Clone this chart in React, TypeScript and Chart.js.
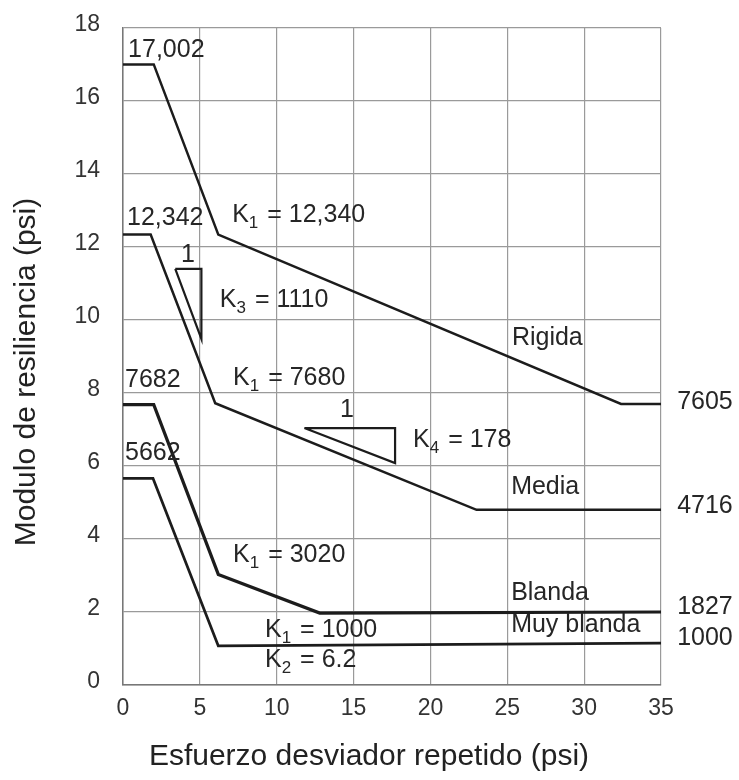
import React, { useEffect, useRef } from "react";
import { Chart, registerables } from "chart.js";

Chart.register(...registerables);

// Esfuerzo desviador (psi) and Modulo de resiliencia (x1000 psi)
const rigidaX = [0, 2, 6.2, 32.4, 35];
const rigidaY = [17.002, 17.002, 12.34, 7.7, 7.7];
const mediaX = [0, 1.8, 6.0, 23.0, 35];
const mediaY = [12.342, 12.342, 7.72, 4.8, 4.8];
const blandaX = [0, 2.0, 6.2, 12.8, 35];
const blandaY = [7.682, 7.682, 3.03, 1.97, 2.0];
const muyBlandaX = [0, 1.95, 6.2, 35];
const muyBlandaY = [5.662, 5.662, 1.07, 1.15];

// slope triangles
const k3TriX = [3.4, 5.1, 5.1, 3.4];
const k3TriY = [11.4, 11.4, 9.48, 11.4];
const k4TriX = [11.8, 17.7, 17.7, 11.8];
const k4TriY = [7.04, 7.04, 6.08, 7.04];

const xTickMin = 0;
const xTickMax = 35;
const xTickStep = 5;
const yTickMin = 0;
const yTickMax = 18;
const yTickStep = 2;

const xTitle = "Esfuerzo desviador repetido (psi)";
const yTitle = "Modulo de resiliencia (psi)";

// Text labels: "_" marks the next character as subscript
const labelTexts = [
  "17,002", "K_1 = 12,340", "12,342", "1", "K_3 = 1110", "Rigida",
  "7682", "K_1 = 7680", "1", "K_4 = 178", "5662", "Media",
  "K_1 = 3020", "Blanda", "Muy blanda", "K_1 = 1000", "K_2 = 6.2",
  "7605", "4716", "1827", "1000",
];
const labelX = [
  0.33, 7.1, 0.26, 4.23, 6.3, 25.3,
  0.13, 7.16, 14.57, 18.87, 0.13, 25.25,
  7.16, 25.25, 25.25, 9.24, 9.24,
  36.05, 36.05, 36.05, 36.05,
];
const labelY = [
  17.4, 12.88, 12.8, 11.78, 10.55, 9.5,
  8.36, 8.41, 7.53, 6.71, 6.36, 5.42,
  3.56, 2.52, 1.64, 1.5, 0.68,
  7.75, 4.9, 2.14, 1.29,
];
const labelCentered = [
  false, false, false, true, false, false,
  false, false, true, false, false, false,
  false, false, false, false, false,
  false, false, false, false,
];

const FONT = '"Liberation Sans", Arial, Helvetica, sans-serif';
const INK = "#1c1c1c";

const pts = (xs: number[], ys: number[]) => xs.map((x, i) => ({ x, y: ys[i] }));

function drawRich(ctx: CanvasRenderingContext2D, text: string, x: number, y: number, centered: boolean) {
  const size = 25;
  const subSize = 17;
  const parts: { t: string; sub: boolean }[] = [];
  for (let i = 0; i < text.length; i++) {
    if (text[i] === "_" && i + 1 < text.length) {
      parts.push({ t: text[i + 1], sub: true });
      i++;
    } else {
      const last = parts[parts.length - 1];
      if (last && !last.sub) last.t += text[i];
      else parts.push({ t: text[i], sub: false });
    }
  }
  let total = 0;
  for (const p of parts) {
    ctx.font = `${p.sub ? subSize : size}px ${FONT}`;
    total += ctx.measureText(p.t).width;
  }
  let cx = centered ? x - total / 2 : x;
  ctx.textAlign = "left";
  ctx.textBaseline = "middle";
  for (const p of parts) {
    ctx.font = `${p.sub ? subSize : size}px ${FONT}`;
    ctx.fillText(p.t, cx, p.sub ? y + 8 : y);
    cx += ctx.measureText(p.t).width + (p.sub ? 2 : 0);
  }
}

const labelPlugin = {
  id: "labels",
  afterDatasetsDraw(chart: any) {
    const { ctx, scales, chartArea } = chart;
    const xs = scales.x;
    const ys = scales.y;
    ctx.save();
    ctx.fillStyle = "#262626";
    labelTexts.forEach((t, i) => {
      drawRich(ctx, t, xs.getPixelForValue(labelX[i]), ys.getPixelForValue(labelY[i]), labelCentered[i]);
    });
    // axis titles
    ctx.fillStyle = "#222";
    ctx.textAlign = "center";
    ctx.textBaseline = "middle";
    ctx.font = `30px ${FONT}`;
    ctx.fillText(xTitle, chartArea.left + 246, chartArea.bottom + 72);
    ctx.translate(27, chartArea.top + 344);
    ctx.rotate(-Math.PI / 2);
    ctx.font = `30px ${FONT}`;
    ctx.fillText(yTitle, 0, 0);
    ctx.restore();
  },
};

export default function App() {
  const ref = useRef<HTMLCanvasElement>(null);
  useEffect(() => {
    if (!ref.current) return;
    const line = (xs: number[], ys: number[], w: number) => ({
      data: pts(xs, ys),
      borderColor: INK,
      borderWidth: w,
      pointRadius: 0,
      fill: false,
      tension: 0,
    });
    const chart = new Chart(ref.current, {
      type: "line",
      data: {
        datasets: [
          line(rigidaX, rigidaY, 2.5),
          line(mediaX, mediaY, 2.5),
          line(blandaX, blandaY, 3.2),
          line(muyBlandaX, muyBlandaY, 2.8),
          line(k3TriX, k3TriY, 2.2),
          line(k4TriX, k4TriY, 2.2),
        ],
      },
      options: {
        responsive: false,
        animation: false,
        layout: { padding: { left: 0, right: 78, top: 28, bottom: 0 } },
        plugins: { legend: { display: false }, tooltip: { enabled: false } },
        scales: {
          x: {
            type: "linear",
            min: xTickMin,
            max: xTickMax,
            afterFit: (s: any) => { s.height = 95; s.paddingLeft = 0; s.paddingRight = 0; },
            ticks: { stepSize: xTickStep, color: "#333", font: { size: 23, family: FONT }, padding: 10 },
            grid: { color: "#9a9a9a", lineWidth: 1.2, drawTicks: false },
            border: { color: "#777", width: 1.5 },
          },
          y: {
            type: "linear",
            min: yTickMin,
            max: yTickMax,
            afterFit: (s: any) => { s.width = 123; s.paddingTop = 0; s.paddingBottom = 0; },
            ticks: { stepSize: yTickStep, color: "#333", font: { size: 23, family: FONT }, padding: 23, labelOffset: -3 },
            grid: { color: "#9a9a9a", lineWidth: 1.2, drawTicks: false },
            border: { color: "#777", width: 1.5 },
          },
        },
      },
      plugins: [labelPlugin],
    });
    return () => chart.destroy();
  }, []);
  return (
    <div style={{ position: "absolute", left: 0, top: 0, width: 739, height: 780, background: "#fff" }}>
      <canvas ref={ref} width={739} height={780} style={{ display: "block" }} />
    </div>
  );
}
